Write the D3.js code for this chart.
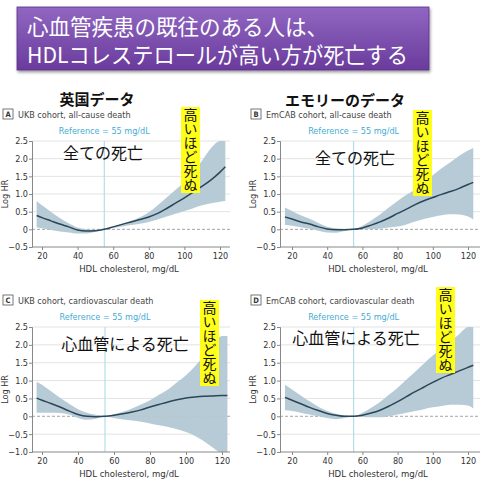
<!DOCTYPE html>
<html>
<head>
<meta charset="utf-8">
<script src="https://cdn.jsdelivr.net/npm/d3@7"></script>
<style>
  body { margin: 0; background: #fff; }
  svg text { font-family: "Liberation Sans Narrow", "DejaVu Sans Condensed", sans-serif; }
  .jp { font-family: "Noto Sans CJK JP", sans-serif !important; }
</style>
</head>
<body>
<div id="chart"></div>
<script>
// HDL grid (mg/dL) for each cohort
const hdlUKB = [17, 20, 25, 30, 35, 40, 45, 50, 55, 60, 65, 70, 75, 80, 85, 90, 95, 100, 105, 110, 115, 120, 123]
const hdlEm  = [16, 20, 25, 30, 35, 40, 45, 50, 55, 60, 65, 70, 75, 80, 85, 90, 95, 100, 105, 110, 115, 120, 123]

// A: UKB all-cause
const lineA  = [0.39, 0.33, 0.24, 0.15, 0.07, -0.02, -0.05, -0.04, 0, 0.07, 0.14, 0.21, 0.28, 0.35, 0.45, 0.59, 0.74, 0.89, 1.05, 1.22, 1.40, 1.62, 1.77]
const upperA = [0.80, 0.68, 0.50, 0.32, 0.17, 0.05, 0.00, -0.01, 0, 0.08, 0.16, 0.24, 0.34, 0.48, 0.68, 0.90, 1.12, 1.35, 1.62, 1.95, 2.30, 2.50, 2.50]
const lowerA = [0.05, 0.03, -0.02, -0.06, -0.09, -0.12, -0.12, -0.07, 0, 0.04, 0.08, 0.12, 0.16, 0.21, 0.28, 0.36, 0.44, 0.52, 0.60, 0.68, 0.74, 0.78, 0.80]

// B: EmCAB all-cause
const lineB  = [0.35, 0.29, 0.21, 0.15, 0.07, 0.01, -0.01, -0.01, 0, 0.04, 0.12, 0.21, 0.32, 0.45, 0.57, 0.70, 0.81, 0.90, 0.99, 1.07, 1.16, 1.27, 1.33]
const upperB = [0.62, 0.52, 0.40, 0.30, 0.18, 0.07, 0.03, 0.01, 0, 0.10, 0.25, 0.42, 0.62, 0.80, 0.98, 1.13, 1.33, 1.53, 1.73, 1.90, 2.08, 2.23, 2.30]
const lowerB = [0.12, 0.10, 0.06, 0.02, -0.04, -0.09, -0.10, -0.05, 0, 0.00, 0.01, 0.02, 0.05, 0.08, 0.14, 0.22, 0.29, 0.35, 0.40, 0.43, 0.42, 0.36, 0.28]

// C: UKB cardiovascular
const lineC  = [0.51, 0.45, 0.36, 0.26, 0.15, 0.05, 0.00, -0.01, 0, 0.03, 0.07, 0.12, 0.18, 0.26, 0.33, 0.40, 0.46, 0.51, 0.54, 0.56, 0.57, 0.58, 0.58]
const upperC = [0.97, 0.88, 0.70, 0.52, 0.35, 0.20, 0.10, 0.04, 0, 0.06, 0.13, 0.22, 0.33, 0.45, 0.60, 0.75, 0.95, 1.15, 1.40, 1.70, 2.05, 2.25, 2.25]
const lowerC = [0.10, 0.10, 0.10, 0.09, 0.05, -0.05, -0.10, -0.07, 0, -0.05, -0.09, -0.12, -0.15, -0.20, -0.25, -0.30, -0.36, -0.44, -0.55, -0.70, -0.88, -1.05, -1.10]

// D: EmCAB cardiovascular
const lineD  = [0.53, 0.45, 0.35, 0.25, 0.16, 0.08, 0.03, 0.00, 0, 0.03, 0.09, 0.17, 0.28, 0.41, 0.55, 0.69, 0.82, 0.95, 1.07, 1.17, 1.27, 1.37, 1.43]
const upperD = [0.88, 0.75, 0.58, 0.42, 0.27, 0.15, 0.07, 0.02, 0, 0.10, 0.24, 0.40, 0.60, 0.80, 1.03, 1.25, 1.48, 1.70, 1.90, 2.10, 2.30, 2.50, 2.50]
const lowerD = [0.17, 0.15, 0.10, 0.05, 0.00, -0.05, -0.08, -0.05, 0, -0.02, -0.03, -0.03, 0.00, 0.05, 0.10, 0.15, 0.20, 0.25, 0.29, 0.32, 0.32, 0.30, 0.22]

const xTicks = [20, 40, 60, 80, 100, 120]
const refHDL = 55

const titleLines = ["心血管疾患の既往のある人は、", "HDLコレステロールが高い方が死亡する"]
const titleWidths = [301, 381]

const panels = [
  {letter: "A", sub: "UKB cohort, all-cause death", head: "英国データ", note: "全ての死亡",
   hdl: hdlUKB, line: lineA, upper: upperA, lower: lowerA, yDomain: [-0.5, 2.5],
   left: 32, right: 230, top: 141, bottom: 247, x20: 42, x120: 220,
   headX: 97, headY: 105, noteX: 103, noteY: 159, boxX: 181, boxY: 107, refY: 134},
  {letter: "B", sub: "EmCAB cohort, all-cause death", head: "エモリーのデータ", note: "全ての死亡",
   hdl: hdlEm, line: lineB, upper: upperB, lower: lowerB, yDomain: [-0.5, 2.5],
   left: 280, right: 480, top: 141, bottom: 247, x20: 292, x120: 468,
   headX: 345, headY: 106, noteX: 355, noteY: 164, boxX: 413, boxY: 110, refY: 134},
  {letter: "C", sub: "UKB cohort, cardiovascular death", head: null, note: "心血管による死亡",
   hdl: hdlUKB, line: lineC, upper: upperC, lower: lowerC, yDomain: [-1.0, 2.5],
   left: 32, right: 230, top: 327, bottom: 452, x20: 42, x120: 222,
   noteX: 125, noteY: 350, boxX: 200, boxY: 300, refY: 320},
  {letter: "D", sub: "EmCAB cohort, cardiovascular death", head: null, note: "心血管による死亡",
   hdl: hdlEm, line: lineD, upper: upperD, lower: lowerD, yDomain: [-1.0, 2.5],
   left: 280, right: 480, top: 327, bottom: 452, x20: 292, x120: 468,
   noteX: 356, noteY: 344, boxX: 436, boxY: 287, refY: 320}
]

const W = 480, H = 479
const svg = d3.select("#chart").append("svg")
  .attr("width", W).attr("height", H)

// title banner
const defs = svg.append("defs")
const grad = defs.append("linearGradient").attr("id", "banner")
  .attr("x1", 0).attr("y1", 0).attr("x2", 0).attr("y2", 1)
grad.append("stop").attr("offset", "0%").attr("stop-color", "#9067c2")
grad.append("stop").attr("offset", "100%").attr("stop-color", "#6a3b9c")
const shadow = defs.append("filter").attr("id", "shadow")
  .attr("x", "-5%").attr("y", "-10%").attr("width", "110%").attr("height", "130%")
shadow.append("feDropShadow").attr("dx", 1).attr("dy", 2).attr("stdDeviation", 1.5)
  .attr("flood-color", "#000").attr("flood-opacity", 0.4)

svg.append("rect")
  .attr("x", 17).attr("y", 7).attr("width", 412).attr("height", 63)
  .attr("fill", "url(#banner)").attr("stroke", "#5a3188").attr("stroke-width", 0.8)
  .attr("filter", "url(#shadow)")
const title = svg.append("text")
  .attr("class", "jp")
  .attr("fill", "#fff").attr("font-size", 22)
title.selectAll("tspan").data(titleLines).enter().append("tspan")
  .attr("x", 27).attr("y", (d, i) => 35 + i * 28)
  .attr("textLength", (d, i) => titleWidths[i])
  .attr("lengthAdjust", "spacingAndGlyphs")
  .text(d => d)

panels.forEach((p, pi) => drawPanel(p, pi))

function drawPanel(p, pi) {
  const g = svg.append("g")

  // x scale from tick positions
  const x = d3.scaleLinear().domain([20, 120]).range([p.x20, p.x120])
  const y = d3.scaleLinear().domain(p.yDomain).range([p.bottom, p.top])

  defs.append("clipPath").attr("id", "clip" + pi)
    .append("rect").attr("x", p.left).attr("y", p.top)
    .attr("width", p.right - p.left).attr("height", p.bottom - p.top)

  // gridlines
  const yTicks = d3.range(p.yDomain[0], p.yDomain[1] + 0.01, 0.5)
  g.selectAll(".grid").data(yTicks.filter(t => t !== 0 && t !== p.yDomain[0])).enter()
    .append("line")
    .attr("x1", p.left).attr("x2", p.right)
    .attr("y1", d => y(d)).attr("y2", d => y(d))
    .attr("stroke", "#e3e3e3").attr("stroke-width", 1)

  // reference line
  g.append("line")
    .attr("x1", x(refHDL)).attr("x2", x(refHDL))
    .attr("y1", p.top).attr("y2", p.bottom)
    .attr("stroke", "#b5dde9").attr("stroke-width", 1.2)

  // zero line
  g.append("line")
    .attr("x1", p.left).attr("x2", p.right)
    .attr("y1", y(0)).attr("y2", y(0))
    .attr("stroke", "#9a9a9a").attr("stroke-width", 0.9)
    .attr("stroke-dasharray", "3,2")

  const pts = p.hdl.map((h, i) => ({h: h, v: p.line[i], u: p.upper[i], l: p.lower[i]}))

  const area = d3.area()
    .x(d => x(d.h)).y0(d => y(d.l)).y1(d => y(d.u))
    .curve(d3.curveMonotoneX)
  const line = d3.line()
    .x(d => x(d.h)).y(d => y(d.v))
    .curve(d3.curveMonotoneX)

  const plot = g.append("g").attr("clip-path", `url(#clip${pi})`)
  plot.append("path").datum(pts)
    .attr("d", area)
    .attr("fill", "#b3c8d5").attr("opacity", 0.95)
  plot.append("path").datum(pts)
    .attr("d", line)
    .attr("fill", "none").attr("stroke", "#2b4656").attr("stroke-width", 1.5)

  // axes
  const yAxis = d3.axisLeft(y).tickValues(yTicks).tickSize(3)
    .tickFormat(d => d === 0 ? "0" : d3.format(".1f")(d))
  const ya = g.append("g").attr("transform", `translate(${p.left},0)`).call(yAxis)
  ya.select(".domain").attr("stroke", "#888")
  ya.selectAll(".tick line").attr("stroke", "#888")
  ya.selectAll(".tick text").attr("font-size", 9).attr("fill", "#333")
    .attr("x", -4).style("font-family", "'Liberation Sans Narrow', 'DejaVu Sans Condensed', sans-serif")

  const xAxis = d3.axisBottom(x).tickValues(xTicks).tickSize(3)
  const xa = g.append("g").attr("transform", `translate(0,${p.bottom})`).call(xAxis)
  xa.select(".domain").attr("d", `M${p.left},0H${p.right}`).attr("stroke", "#888")
  xa.selectAll(".tick line").attr("stroke", "#888")
  xa.selectAll(".tick text").attr("font-size", 9).attr("fill", "#333").attr("y", 6)
    .style("font-family", "'Liberation Sans Narrow', 'DejaVu Sans Condensed', sans-serif")

  g.append("text")
    .attr("x", (p.left + p.right) / 2 - 2).attr("y", p.bottom + 25)
    .attr("text-anchor", "middle").attr("font-size", 9.5).attr("fill", "#333")
    .text("HDL cholesterol, mg/dL")

  g.append("text")
    .attr("transform", `translate(${p.left - 24},${(p.top + p.bottom) / 2}) rotate(-90)`)
    .attr("text-anchor", "middle").attr("font-size", 9).attr("fill", "#333")
    .text("Log HR")

  // reference label
  g.append("text")
    .attr("x", x(refHDL)).attr("y", p.refY)
    .attr("text-anchor", "middle").attr("font-size", 9).attr("fill", "#45acd3")
    .text("Reference = 55 mg/dL")

  // panel letter + subtitle
  const lx = p.left - 29
  const ly = p.top - 32
  g.append("rect")
    .attr("x", lx).attr("y", ly).attr("width", 10).attr("height", 10)
    .attr("fill", "#fff").attr("stroke", "#555").attr("stroke-width", 0.8)
  g.append("text")
    .attr("x", lx + 5).attr("y", ly + 8).attr("text-anchor", "middle")
    .attr("font-size", 7.5).attr("font-weight", "bold").attr("fill", "#333")
    .text(p.letter)
  g.append("text")
    .attr("x", lx + 15).attr("y", ly + 8.5)
    .attr("font-size", 9).attr("fill", "#444")
    .text(p.sub)

  // Japanese annotations
  if (p.head) {
    g.append("text").attr("class", "jp")
      .attr("x", p.headX).attr("y", p.headY)
      .attr("text-anchor", "middle").attr("font-size", 15).attr("font-weight", "bold")
      .attr("fill", "#111").text(p.head)
  }
  g.append("text").attr("class", "jp")
    .attr("x", p.noteX).attr("y", p.noteY)
    .attr("text-anchor", "middle").attr("font-size", 16)
    .attr("fill", "#111").text(p.note)

  // yellow vertical label
  const bw = 19, bh = 86
  g.append("rect")
    .attr("x", p.boxX).attr("y", p.boxY).attr("width", bw).attr("height", bh)
    .attr("fill", "#ffff1a")
  g.append("text")
    .attr("class", "jp")
    .attr("x", p.boxX + bw / 2).attr("y", p.boxY + 1)
    .style("writing-mode", "vertical-rl")
    .style("text-orientation", "upright")
    .attr("font-size", 14).attr("fill", "#111")
    .text("高いほど死ぬ")
}
</script>
</body>
</html>
